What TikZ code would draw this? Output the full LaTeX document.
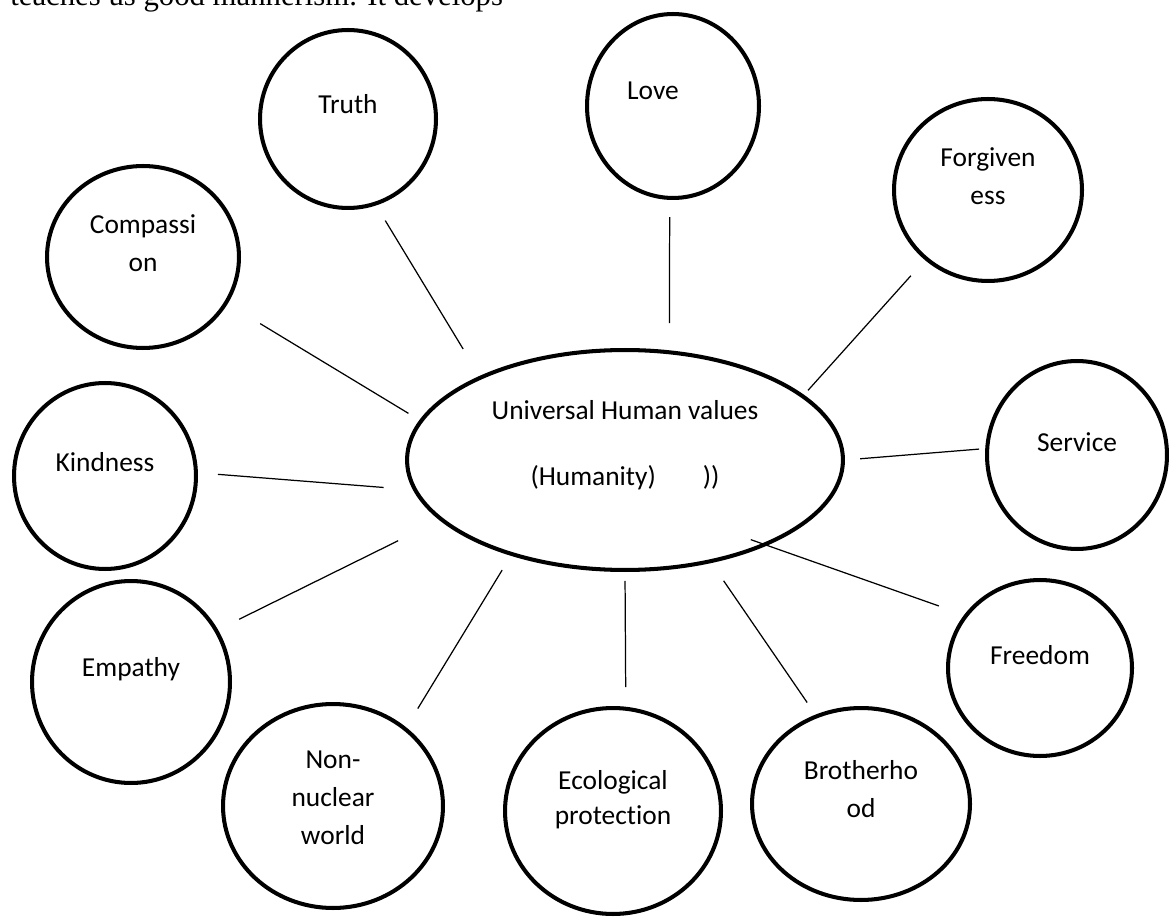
\documentclass[tikz,border=0pt]{standalone}
\usepackage{fontspec}
\setmainfont{Carlito}[Ligatures=NoCommon]
\newfontfamily\bodyserif{Liberation Serif}
\usetikzlibrary{shapes.geometric}

\begin{document}
\begin{tikzpicture}[x=0.02cm,y=-0.02cm]
  \tikzstyle{value}=[ellipse,draw,line width=2.3pt,inner sep=0pt]
  \tikzstyle{link}=[line width=0.7pt]
  \tikzstyle{every label}=[font=\fontsize{15.6}{21.6}\selectfont,align=center,inner sep=0pt]
  \useasboundingbox (0,0) rectangle (1169,918);

  \node[anchor=base west,inner sep=0pt,font=\bodyserif\fontsize{17.5}{21}\selectfont] (T_0) at (10,6) {teaches us good mannerism. It develops};

  \node[value,minimum width=8.72cm,minimum height=4.40cm,label={[yshift=0.3cm]center:Universal Human values\\[15.8pt](Humanity)\hspace{0.94cm}))}] (V_0) at (625,460) {};

  \node[value,minimum width=3.52cm,minimum height=3.56cm,label={[yshift=0.3cm]center:Truth}] (V_1) at (348,119) {};
  \node[value,minimum width=3.44cm,minimum height=3.68cm,label={[xshift=-0.4cm,yshift=0.3cm]center:Love}] (V_2) at (673,106) {};
  \node[value,minimum width=3.76cm,minimum height=3.64cm,label={[yshift=0.27cm]center:Forgiven\\ess}] (V_3) at (988,190) {};
  \node[value,minimum width=3.60cm,minimum height=3.76cm,label={[yshift=0.26cm]center:Service}] (V_4) at (1077,455) {};
  \node[value,minimum width=3.68cm,minimum height=3.52cm,label={[yshift=0.26cm]center:Freedom}] (V_5) at (1040,668) {};
  \node[value,minimum width=4.36cm,minimum height=3.84cm,label={[yshift=0.30cm]center:Brotherho\\od}] (V_6) at (861,804) {};
  \node[value,minimum width=4.32cm,minimum height=4.12cm,label={[yshift=0.23cm]center:Ecological\\[-1.8pt]protection}] (V_7) at (613,811) {};
  \node[value,minimum width=4.40cm,minimum height=4.08cm,label={[yshift=0.17cm]center:Non-\\nuclear\\world}] (V_8) at (333,806) {};
  \node[value,minimum width=3.96cm,minimum height=4.04cm,label={[yshift=0.26cm]center:Empathy}] (V_9) at (131,682) {};
  \node[value,minimum width=3.64cm,minimum height=3.72cm,label={[yshift=0.28cm]center:Kindness}] (V_10) at (105,476) {};
  \node[value,minimum width=3.84cm,minimum height=3.64cm,label={[yshift=0.28cm]center:Compassi\\on}] (V_11) at (143,257) {};

  \draw[link,shorten <=0.354cm,shorten >=0.632cm] (V_1.-72.9) -- (V_0.150);
  \draw[link,shorten <=0.342cm,shorten >=0.546cm] (V_2.-92.4) -- (V_0.68.1);
  \draw[link,shorten <=0.42cm,shorten >=0.12cm] (V_3.-132.6) -- (V_0.20.6);
  \draw[link,shorten <=0.124cm,shorten >=0.304cm] (V_4.176.5) -- (V_0.-0.9);
  \draw[link,shorten <=0.536cm,shorten >=-0.348cm] (V_5.145.9) -- (V_0.-31.3);
  \draw[link,shorten <=0.294cm,shorten >=0.432cm] (V_6.117.8) -- (V_0.-50.2);
  \draw[link,shorten <=0.392cm,shorten >=0.18cm] (V_7.83.4) -- (V_0.-90);
  \draw[link,shorten <=0.44cm,shorten >=0.336cm] (V_8.47.6) -- (V_0.-140.0);
  \draw[link,shorten <=0.472cm,shorten >=0.924cm] (V_9.31.1) -- (V_0.-162.4);
  \draw[link,shorten <=0.402cm,shorten >=0.588cm] (V_10.2.3) -- (V_0.188.2);
  \draw[link,shorten <=0.762cm,shorten >=0.258cm] (V_11.-29.2) -- (V_0.169.2);

\end{tikzpicture}
\end{document}
